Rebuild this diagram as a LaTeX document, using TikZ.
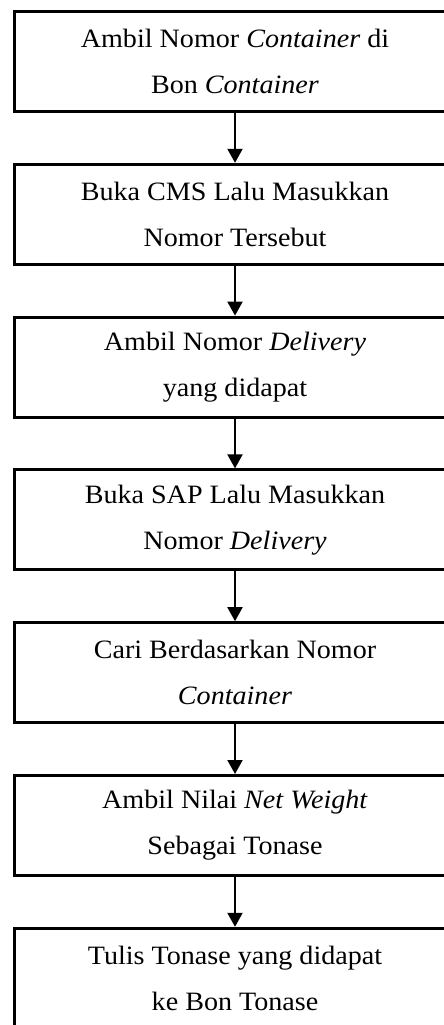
\documentclass[tikz,border=0pt]{standalone}
\usepackage{fontspec}
\setmainfont{Liberation Serif}[FakeStretch=1.06]
\usetikzlibrary{arrows.meta}

\begin{document}
\begin{tikzpicture}[x=1pt,y=-1pt,
  langkah/.style={draw,line width=3pt,minimum width=441pt,minimum height=100pt,
    inner sep=0pt,align=center,font=\fontsize{26.5}{46}\selectfont},
  panah/.style={line width=2pt,-{Triangle[length=14pt,width=15pt]}}]
  \useasboundingbox (0,0) rectangle (444,1025);
  \node[langkah] (s1) at (235,61.5) {Ambil Nomor \textit{Container} di\\Bon \textit{Container}};
  \node[langkah] (s2) at (235,214.3) {Buka CMS Lalu Masukkan\\Nomor Tersebut};
  \node[langkah] (s3) at (235,367.1) {Ambil Nomor \textit{Delivery}\\yang didapat};
  \node[langkah] (s4) at (235,519.9) {Buka SAP Lalu Masukkan\\Nomor \textit{Delivery}};
  \node[langkah] (s5) at (235,672.7) {Cari Berdasarkan Nomor\\\textit{Container}};
  \node[langkah] (s6) at (235,825.5) {Ambil Nilai \textit{Net Weight}\\Sebagai Tonase};
  \node[langkah] (s7) at (235,978.3) {Tulis Tonase yang didapat\\ke Bon Tonase};
  \foreach \a/\b in {s1/s2,s2/s3,s3/s4,s4/s5,s5/s6,s6/s7}
    \draw[panah] (\a) -- (\b);
\end{tikzpicture}
\end{document}
